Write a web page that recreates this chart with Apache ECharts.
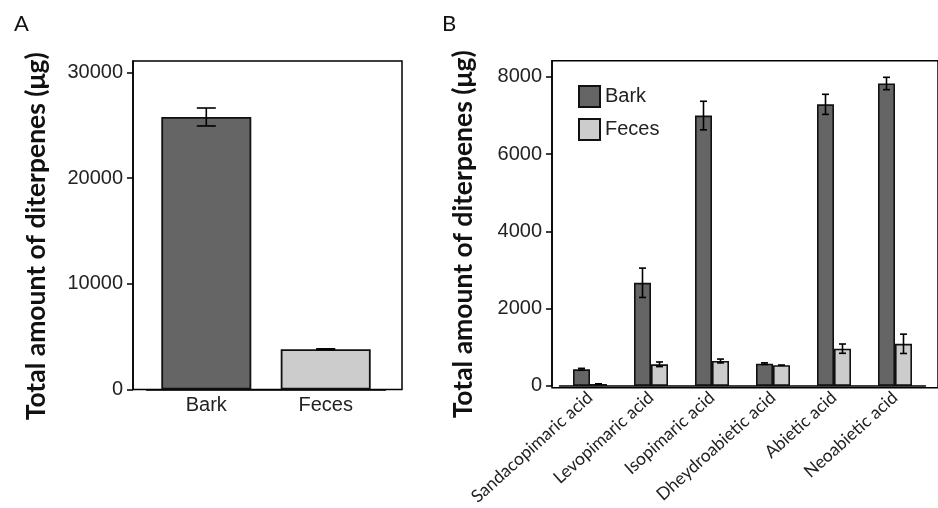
<!DOCTYPE html>
<html>
<head>
<meta charset="utf-8">
<script src="https://cdn.jsdelivr.net/npm/echarts@6/dist/echarts.min.js"></script>
<style>html,body{margin:0;padding:0;background:#fff}#c{width:938px;height:508px}</style>
</head>
<body>
<div id="c"></div>
<script>
// ---- Data ----
const catsA = ['Bark', 'Feces'];
const totalA = [25800, 3820];
const totalErrA = [850, 30];
const ticksA = [0, 10000, 20000, 30000];

const catsB = ['Sandacopimaric acid', 'Levopimaric acid', 'Isopimaric acid', 'Dheydroabietic acid', 'Abietic acid', 'Neoabietic acid'];
const barkB = [430, 2670, 7000, 577, 7290, 7830];
const barkErrB = [25, 380, 370, 20, 260, 160];
const fecesB = [50, 560, 645, 535, 965, 1090];
const fecesErrB = [5, 60, 50, 0, 120, 250];
const ticksB = [0, 2000, 4000, 6000, 8000];

// ---- Styles ----
const DARK = '#656565', LIGHT = '#cccccc';
const colorsA = [DARK, LIGHT];
const TXT = '#222';
const plain = v => String(v);
const tickFont = {fontFamily: 'Liberation Sans, Arial, sans-serif', fontSize: 20, color: TXT};
const titleFont = {fontFamily: 'Lato, sans-serif', fontWeight: 'bold', fontSize: 26.5, color: '#111', padding: [0, 22, 0, 0]};
const BW_B = 17;

function errRenderer(offset, capHalf) {
  return function (params, api) {
    const i = api.value(0), v = api.value(1), e = api.value(2);
    const t = api.coord([i, v + e]);
    const b = api.coord([i, v - e]);
    const x = t[0] + offset;
    const st = {stroke: '#000', lineWidth: 1.6};
    return {
      type: 'group',
      children: [
        {type: 'line', shape: {x1: x, y1: t[1], x2: x, y2: b[1]}, style: st},
        {type: 'line', shape: {x1: x - capHalf, y1: t[1], x2: x + capHalf, y2: t[1]}, style: st},
        {type: 'line', shape: {x1: x - capHalf, y1: b[1], x2: x + capHalf, y2: b[1]}, style: st}
      ]
    };
  };
}

const axisLineStyle = {color: '#000', width: 1.5};

const option = {
  animation: false,
  backgroundColor: '#fff',
  title: [
    {text: 'A', left: 9, top: 8, textStyle: {fontFamily: 'Lato, sans-serif', fontWeight: 'normal', fontSize: 22, color: '#111'}},
    {text: 'B', left: 437, top: 8, textStyle: {fontFamily: 'Lato, sans-serif', fontWeight: 'normal', fontSize: 22, color: '#111'}}
  ],
  legend: {
    data: ['Bark', 'Feces'],
    orient: 'vertical',
    left: 573, top: 80,
    itemWidth: 21, itemHeight: 21, itemGap: 10,
    icon: 'rect',
    textStyle: {fontFamily: 'Liberation Sans, Arial, sans-serif', fontSize: 20, color: TXT}
  },
  grid: [
    {left: 146.6, width: 238.8, top: 61, bottom: 118.5},
    {left: 133, right: 536, top: 61, bottom: 118.5, show: true, borderColor: '#000', borderWidth: 1.5, backgroundColor: 'transparent'},
    {left: 559.5, width: 366, top: 60.7, bottom: 120.3},
    {left: 552, right: -5, top: 60.7, bottom: 120.3, show: true, borderColor: '#000', borderWidth: 1.5, backgroundColor: 'transparent'}
  ],
  xAxis: [
    {
      type: 'category', gridIndex: 0, data: catsA,
      axisLine: {lineStyle: axisLineStyle},
      axisTick: {alignWithLabel: true, length: 6, lineStyle: {color: '#000', width: 1.5}},
      axisLabel: Object.assign({margin: 6}, tickFont)
    },
    {
      type: 'category', gridIndex: 2, data: catsB,
      axisLine: {lineStyle: axisLineStyle},
      axisTick: {alignWithLabel: true, length: 7, lineStyle: {color: '#000', width: 1.5}},
      axisLabel: {rotate: 42, margin: 9, interval: 0, fontFamily: 'Lato, sans-serif', fontSize: 17.5, color: TXT}
    }
  ],
  yAxis: [
    {
      type: 'value', gridIndex: 0, min: 0, max: 31100, offset: 13.6,
      name: 'Total amount of diterpenes (μg)', nameLocation: 'middle', nameRotate: 90, nameGap: 83,
      nameTextStyle: titleFont,
      splitLine: {show: false},
      axisLine: {show: true, lineStyle: axisLineStyle},
      axisTick: {show: true, length: 6, lineStyle: {color: '#000', width: 1.5}, customValues: ticksA},
      axisLabel: Object.assign({margin: 10, customValues: ticksA, formatter: plain}, tickFont)
    },
    {
      type: 'value', gridIndex: 2, min: 0, max: 8420, offset: 7.5,
      name: 'Total amount of diterpenes (μg)', nameLocation: 'middle', nameRotate: 90, nameGap: 75,
      nameTextStyle: titleFont,
      splitLine: {show: false},
      axisLine: {show: true, lineStyle: axisLineStyle},
      axisTick: {show: true, length: 6, lineStyle: {color: '#000', width: 1.5}, customValues: ticksB},
      axisLabel: Object.assign({margin: 10, customValues: ticksB, formatter: plain}, tickFont)
    }
  ],
  series: [
    {
      name: 'Total', type: 'bar', xAxisIndex: 0, yAxisIndex: 0, data: totalA, barWidth: 90,
      itemStyle: {color: p => colorsA[p.dataIndex], borderColor: '#111', borderWidth: 1.8}
    },
    {
      type: 'custom', xAxisIndex: 0, yAxisIndex: 0, z: 5,
      data: totalA.map((v, i) => [i, v, totalErrA[i]]),
      renderItem: errRenderer(0, 9.5)
    },
    {
      name: 'Bark', type: 'bar', xAxisIndex: 1, yAxisIndex: 1, data: barkB, barWidth: BW_B, barGap: '0%',
      itemStyle: {color: DARK, borderColor: '#111', borderWidth: 1.6}
    },
    {
      name: 'Feces', type: 'bar', xAxisIndex: 1, yAxisIndex: 1, data: fecesB, barWidth: BW_B, barGap: '0%',
      itemStyle: {color: LIGHT, borderColor: '#111', borderWidth: 1.6}
    },
    {
      type: 'custom', xAxisIndex: 1, yAxisIndex: 1, z: 5,
      data: barkB.map((v, i) => [i, v, barkErrB[i]]),
      renderItem: errRenderer(-BW_B / 2, 3.5)
    },
    {
      type: 'custom', xAxisIndex: 1, yAxisIndex: 1, z: 5,
      data: fecesB.map((v, i) => [i, v, fecesErrB[i]]),
      renderItem: errRenderer(BW_B / 2, 3.5)
    }
  ]
};

const chart = echarts.init(document.getElementById('c'), null, {renderer: 'canvas'});
chart.setOption(option);
</script>
</body>
</html>
